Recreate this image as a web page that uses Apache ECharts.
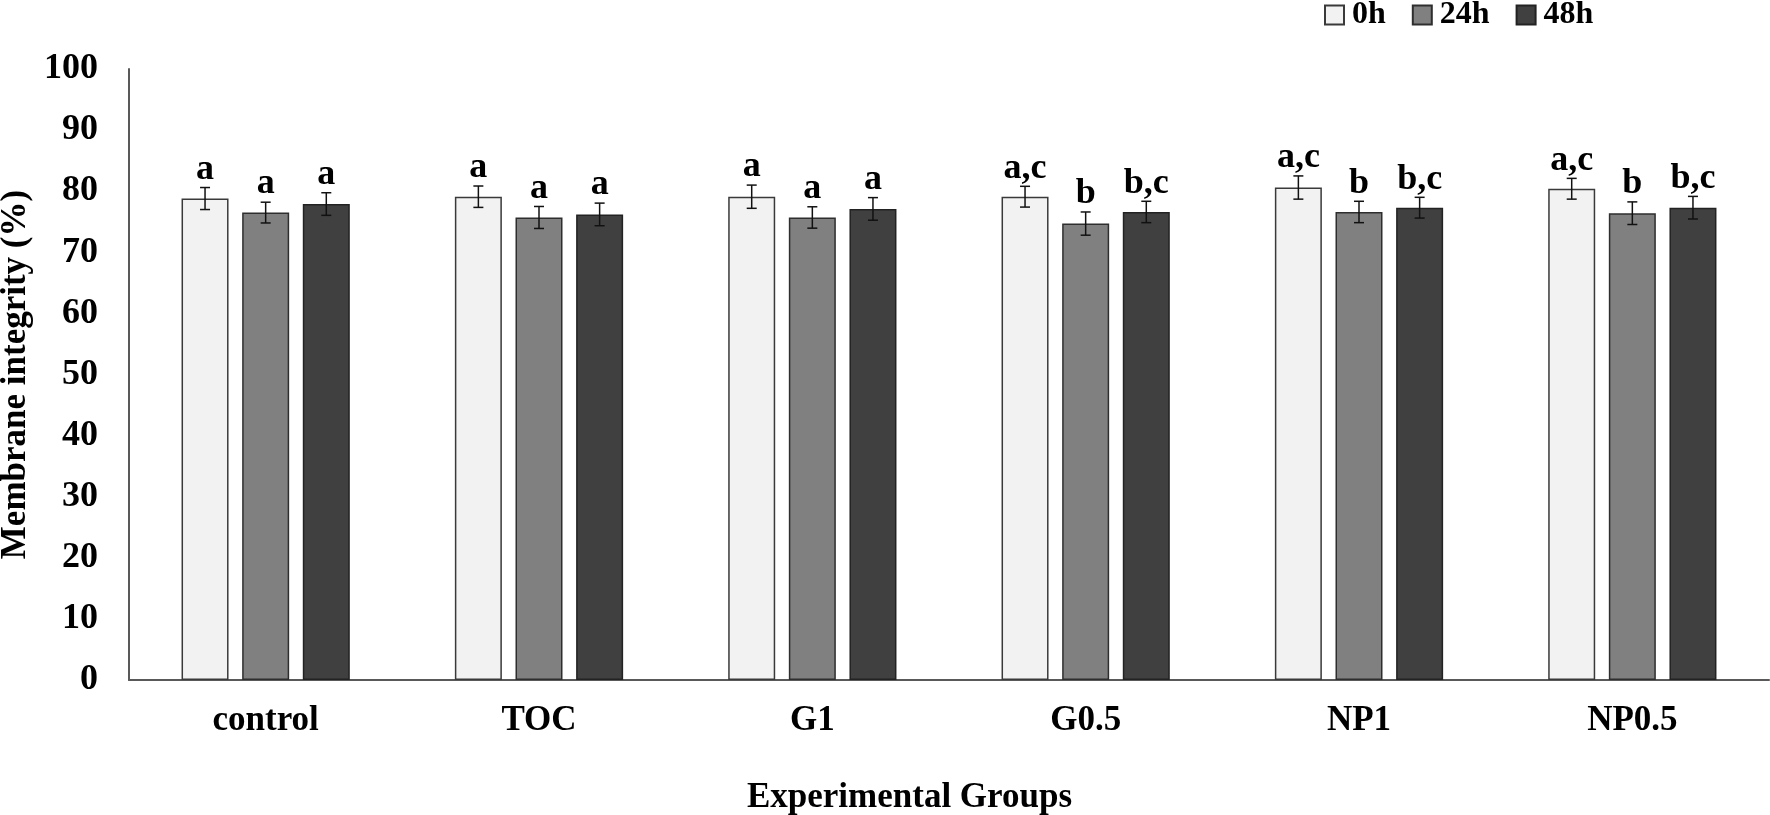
<!DOCTYPE html>
<html>
<head>
<meta charset="utf-8">
<script src="https://cdn.jsdelivr.net/npm/echarts@6/dist/echarts.min.js"></script>
<style>
  html, body { margin: 0; padding: 0; background: #fff; }
  #chart { width: 1770px; height: 815px; }
</style>
</head>
<body>
<div id="chart"></div>
<script>
// ---- data ----
const categories = ['control', 'TOC', 'G1', 'G0.5', 'NP1', 'NP0.5'];
const seriesNames = ['0h', '24h', '48h'];
const values0h  = [78.8, 79.1, 79.1, 79.1, 80.6, 80.4];
const values24h = [76.5, 75.7, 75.7, 74.7, 76.6, 76.4];
const values48h = [77.9, 76.2, 77.1, 76.6, 77.3, 77.3];
const err0h  = [1.8, 1.75, 1.9, 1.7, 1.9, 1.7];
const err24h = [1.7, 1.8, 1.75, 1.9, 1.75, 1.85];
const err48h = [1.85, 1.85, 1.85, 1.75, 1.7, 1.85];
const letters0h  = ['a', 'a', 'a', 'a,c', 'a,c', 'a,c'];
const letters24h = ['a', 'a', 'a', 'b', 'b', 'b'];
const letters48h = ['a', 'a', 'a', 'b,c', 'b,c', 'b,c'];
const yMin = 0, yMax = 100, yInterval = 10;
const yAxisTitle = 'Membrane integrity (%)';
const xAxisTitle = 'Experimental Groups';

// ---- styles ----
const FONT = '"Liberation Serif", "Times New Roman", serif';
const fills = ['#f2f2f2', '#808080', '#404040'];
const borders = ['#3a3a3a', '#2e2e2e', '#222222'];
const BAR_W = 47;
const BAR_GAP = 0.29;

const allValues = [values0h, values24h, values48h];
const allErrs = [err0h, err24h, err48h];
const allLetters = [letters0h, letters24h, letters48h];

const barSeries = seriesNames.map((name, k) => ({
  name: name,
  type: 'bar',
  barWidth: BAR_W,
  barGap: (BAR_GAP * 100) + '%',
  data: allValues[k],
  itemStyle: { color: fills[k], borderColor: borders[k], borderWidth: 1.5 },
  z: 2
}));

const errSeries = seriesNames.map((name, k) => ({
  name: 'err_' + name,
  type: 'custom',
  z: 5,
  data: allValues[k].map((v, i) => [i, v, allErrs[k][i]]),
  renderItem: function (params, api) {
    const ci = api.value(0), v = api.value(1), e = api.value(2);
    const offset = (k - 1) * BAR_W * (1 + BAR_GAP);
    const x = api.coord([ci, v])[0] + offset;
    const yHi = api.coord([ci, v + e])[1];
    const yLo = api.coord([ci, v - e])[1];
    const cap = 5;
    const ls = { stroke: '#111', lineWidth: 1.5 };
    return {
      type: 'group',
      children: [
        { type: 'line', shape: { x1: x, y1: yHi, x2: x, y2: yLo }, style: ls },
        { type: 'line', shape: { x1: x - cap, y1: yHi, x2: x + cap, y2: yHi }, style: ls },
        { type: 'line', shape: { x1: x - cap, y1: yLo, x2: x + cap, y2: yLo }, style: ls },
        {
          type: 'text', x: x, y: yHi,
          style: {
            text: allLetters[k][params.dataIndex],
            align: 'center', verticalAlign: 'bottom',
            fontSize: 36, fontWeight: 'bold', fontFamily: FONT, fill: '#000'
          }
        }
      ]
    };
  }
}));

const chart = echarts.init(document.getElementById('chart'), null, { renderer: 'canvas' });
chart.setOption({
  backgroundColor: '#fff',
  animation: false,
  textStyle: { fontFamily: FONT },
  legend: {
    data: seriesNames,
    left: 1324,
    top: -1,
    padding: 0,
    itemWidth: 19,
    itemHeight: 19,
    itemGap: 26,
    icon: 'rect',
    textStyle: { fontSize: 32, fontWeight: 'bold', fontFamily: FONT, color: '#000', padding: [0, 0, 0, 3] }
  },
  grid: { left: 129, right: 1, top: 69, bottom: 135, containLabel: false, outerBoundsMode: 'none' },
  xAxis: {
    type: 'category',
    data: categories,
    axisLine: { show: true, lineStyle: { color: '#595959', width: 2 } },
    axisTick: { show: false },
    axisLabel: { margin: 23, fontSize: 35, fontWeight: 'bold', fontFamily: FONT, color: '#000' },
    name: xAxisTitle,
    nameLocation: 'middle',
    nameGap: 100,
    nameTextStyle: { fontSize: 35, fontWeight: 'bold', fontFamily: FONT, color: '#000', padding: [0, 79, 0, 0] }
  },
  yAxis: {
    type: 'value',
    min: yMin, max: yMax, interval: yInterval,
    axisLine: { show: true, lineStyle: { color: '#595959', width: 2 } },
    axisTick: { show: false },
    splitLine: { show: false },
    axisLabel: { margin: 31, fontSize: 36, fontWeight: 'bold', fontFamily: FONT, color: '#000' },
    name: yAxisTitle,
    nameLocation: 'middle',
    nameGap: 94,
    nameTextStyle: { fontSize: 35, fontWeight: 'bold', fontFamily: FONT, color: '#000' }
  },
  series: barSeries.concat(errSeries)
});
</script>
</body>
</html>
